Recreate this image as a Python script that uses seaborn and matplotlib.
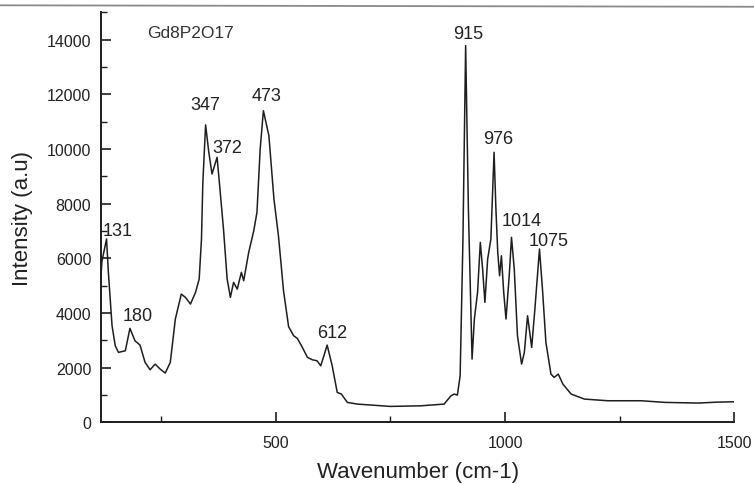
import matplotlib
matplotlib.use("Agg")
import matplotlib.pyplot as plt
import seaborn as sns
import pandas as pd
from matplotlib.ticker import MultipleLocator
from matplotlib.lines import Line2D

# ---- data ----
wavenumber = [119, 121, 131, 135, 143, 150, 157, 172, 182, 193, 204, 215, 226, 237, 248,
              259, 270, 281, 294, 303, 314, 325, 333, 338, 341, 347, 354, 361, 372, 377,
              386, 394, 401, 408, 416, 425, 430, 441, 452, 459, 466, 473, 485, 496, 506,
              517, 528, 539, 547, 558, 569, 580, 590, 598, 605, 612, 623, 634, 643, 656,
              678, 750, 816, 867, 882, 889, 896, 902, 908, 914, 920, 928, 933, 940, 946,
              951, 956, 962, 969, 976, 980, 984, 988, 992, 997, 1002, 1009, 1014, 1020,
              1027, 1036, 1042, 1049, 1058, 1065, 1075, 1082, 1089, 1100, 1107, 1116, 1126,
              1144, 1173, 1224, 1297, 1348, 1421, 1460, 1500]
intensity = [5400, 5900, 6707, 5488, 3535, 2803, 2561, 2620, 3440, 2986, 2828, 2195, 1925,
             2133, 1950, 1804, 2195, 3780, 4694, 4573, 4328, 4756, 5243, 6707, 8781, 10878,
             9879, 9085, 9696, 8781, 7073, 5243, 4573, 5122, 4877, 5488, 5181, 6220, 7011,
             7684, 10000, 11400, 10487, 8170, 6800, 4800, 3500, 3169, 3073, 2744, 2378, 2290,
             2254, 2071, 2437, 2828, 2071, 1098, 1036, 732, 670, 585, 607, 670, 973, 1036,
             1000, 1705, 6586, 13780, 7805, 2316, 3780, 4756, 6586, 5609, 4390, 5975, 6707,
             9879, 7805, 6220, 5364, 6096, 4756, 3780, 5364, 6769, 5609, 3169, 2133, 2561,
             3900, 2744, 4146, 6341, 4756, 2927, 1767, 1646, 1767, 1401, 1036, 853, 792, 792,
             732, 707, 740, 755]

peak_labels = ["131", "180", "347", "372", "473", "612", "915", "976", "1014", "1075"]
label_x = [156, 200, 346, 394, 480, 624, 920, 984, 1037, 1095]
label_y = [7010, 3900, 11610, 10060, 11950, 3270, 14210, 10366, 7377, 6645]

sample_name = "Gd8P2O17"
x_ticks = [500, 1000, 1500]
y_ticks = [0, 2000, 4000, 6000, 8000, 10000, 12000, 14000]

df = pd.DataFrame({"Wavenumber": wavenumber, "Intensity": intensity})

sns.set_style("ticks")
plt.rcParams["font.family"] = ["Liberation Sans", "DejaVu Sans"]

fig = plt.figure(figsize=(7.54, 4.85), dpi=100)
ax = fig.add_axes([0.134, 0.127, 0.974 - 0.134, 0.9726 - 0.127])

ink = "#1e1e1e"
sns.lineplot(data=df, x="Wavenumber", y="Intensity", ax=ax, color=ink,
             linewidth=1.1, estimator=None, sort=False)

ax.set_xlim(119, 1500)
ax.set_ylim(0, 15000)
ax.set_xticks(x_ticks)
ax.set_yticks(y_ticks)
ax.xaxis.set_minor_locator(MultipleLocator(250))
ax.yaxis.set_minor_locator(MultipleLocator(1000))
ax.tick_params(which="major", direction="in", length=7, width=1.2, colors=ink,
               labelsize=11.5, labelcolor="#222222")
ax.tick_params(which="minor", direction="in", length=4, width=1.0, colors=ink)
ax.tick_params(axis="y", pad=7)
ax.tick_params(axis="x", pad=9)

for side in ["top", "right"]:
    ax.spines[side].set_visible(False)
for side in ["left", "bottom"]:
    ax.spines[side].set_linewidth(1.4)
    ax.spines[side].set_color(ink)

ax.set_xlabel("Wavenumber (cm-1)", fontsize=16, color="#222222", labelpad=8)
ax.set_ylabel("Intensity (a.u)", fontsize=16, color="#222222", labelpad=10)

ax.text(313, 14270, sample_name, fontsize=12.5, ha="center", va="center", color="#333333")
for lab, lx, ly in zip(peak_labels, label_x, label_y):
    ax.text(lx, ly, lab, fontsize=13, ha="center", va="center", color="#222222")

# scan border line at the top of the reference
fig.add_artist(Line2D([0, 1], [0.987, 0.984], transform=fig.transFigure,
                      color="#8a8a8a", linewidth=1.3))

fig.savefig("out.png", dpi=100, facecolor="white")
